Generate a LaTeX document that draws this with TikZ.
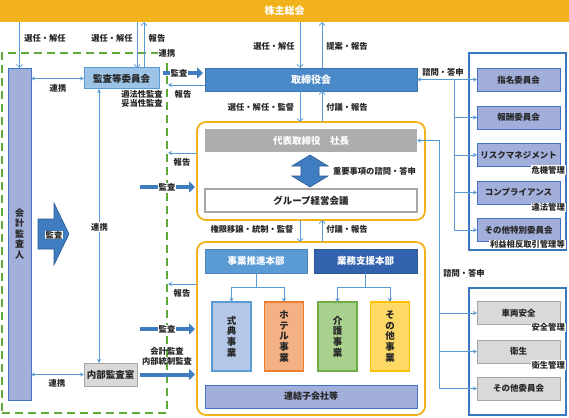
\documentclass[tikz,border=0pt]{standalone}
\usepackage{fontspec}
\setmainfont{Noto Sans CJK JP}
\usetikzlibrary{arrows.meta,calc}
\definecolor{orng}{HTML}{F2B21B}
\definecolor{grn}{HTML}{5DA93A}
\definecolor{ln}{HTML}{5B9BD5}
\definecolor{fatc}{HTML}{3F7DC0}
\definecolor{fatd}{HTML}{2A5A94}
\definecolor{toric}{HTML}{4A89C8}
\definecolor{lav}{HTML}{A3AFDB}
\definecolor{lavd}{HTML}{4472C4}
\definecolor{ltb}{HTML}{9DC3E6}
\definecolor{gry}{HTML}{ADADAD}
\definecolor{lgry}{HTML}{D9D9D9}
\definecolor{mgry}{HTML}{A6A6A6}
\definecolor{dkb}{HTML}{3362AE}
\definecolor{outb}{HTML}{3A78C0}
\definecolor{bsh}{HTML}{B4C7E7}
\definecolor{bho}{HTML}{F4B183}
\definecolor{bhod}{HTML}{ED7D31}
\definecolor{bka}{HTML}{A9D18E}
\definecolor{bkad}{HTML}{70AD47}
\definecolor{bot}{HTML}{FFD966}
\definecolor{botd}{HTML}{FFC000}
\definecolor{txt}{HTML}{262626}
\begin{document}
\begin{tikzpicture}[x=1pt,y=-1pt,
  box/.style={inner sep=0pt,outer sep=0pt,text=txt,font=\fontsize{9.5}{11}\selectfont\bfseries},
  comm/.style={box,fill=lav,draw=lavd,line width=0.9pt,minimum width=83pt,minimum height=23pt,font=\fontsize{8.5}{10}\selectfont\bfseries},
  gcomm/.style={box,fill=lgry,draw=mgry,line width=0.9pt,minimum width=83pt,minimum height=23pt,font=\fontsize{8.5}{10}\selectfont\bfseries},
  bus/.style={box,line width=1.2pt,minimum width=39pt,minimum height=69pt,align=center,font=\fontsize{9.5}{10.6}\selectfont\bfseries},
  lbl/.style={inner sep=1pt,text=txt,font=\fontsize{8.3}{9.5}\selectfont\bfseries},
  wl/.style={lbl,fill=white},
  thinl/.style={draw=ln,line width=0.8pt},
  tarr/.style={thinl,-{Stealth[length=4pt,width=4pt]}},
  tarr2/.style={thinl,{Stealth[length=4pt,width=4pt]}-{Stealth[length=4pt,width=4pt]}},
  barb/.style={thinl,-{Straight Barb[length=3pt,width=6pt]}},
  fat/.style={draw=fatc,line width=4pt,-{Triangle[length=6pt,width=11pt]}},
]
\useasboundingbox (0,0) rectangle (569,417);

% green dashed frame
\node[draw=grn,line width=1.6pt,dash pattern=on 8pt off 5pt,minimum width=165pt,minimum height=360pt,inner sep=0pt,outer sep=0pt] (frame) at (84.5,233) {};

% main nodes
\node[box,fill=orng,text=white,minimum width=569pt,minimum height=22pt,font=\fontsize{10}{12}\selectfont\bfseries] (kabu) at (284.5,11) {株主総会};
\node[box,fill=lav,draw=lavd,line width=0.9pt,minimum width=23pt,minimum height=332pt,align=center,font=\fontsize{9}{10.5}\selectfont\bfseries] (kaikei) at (19.5,234) {会\\計\\監\\査\\人};
\node[box,fill=ltb,draw=ln,line width=1pt,minimum width=75pt,minimum height=21pt] (kaniin) at (121.5,78.5) {監査等委員会};
\node[box,fill=lgry,draw=mgry,line width=1pt,minimum width=53pt,minimum height=23pt] (naibu) at (110.5,374.5) {内部監査室};
\node[box,fill=toric,draw=toric!85!black,line width=0.8pt,text=white,minimum width=212pt,minimum height=23pt,font=\fontsize{10}{12}\selectfont\bfseries] (tori) at (311,79.5) {取締役会};

\node[draw=orng,line width=1.8pt,rounded corners=9pt,minimum width=228pt,minimum height=98pt,inner sep=0pt,outer sep=0pt] (cont1) at (311,171) {};
\node[box,fill=gry,text=white,minimum width=212pt,minimum height=23pt] (shacho) at (311,140.5) {代表取締役　社長};
\node[box,fill=white,draw=mgry,line width=1.5pt,minimum width=212pt,minimum height=23pt] (group) at (311,200.5) {グループ経営会議};

\node[draw=orng,line width=1.8pt,rounded corners=9pt,minimum width=228pt,minimum height=173pt,inner sep=0pt,outer sep=0pt] (cont2) at (311,328.5) {};
\node[box,fill=ln,draw=ln!85!black,line width=0.8pt,text=white,minimum width=102pt,minimum height=24pt] (suishin) at (256,261) {事業推進本部};
\node[box,fill=dkb,draw=dkb!85!black,line width=0.8pt,text=white,minimum width=103pt,minimum height=24pt] (shien) at (365.5,261) {業務支援本部};
\node[bus,fill=bsh,draw=ln] (shiki) at (231.5,336.5) {式\\典\\事\\業};
\node[bus,fill=bho,draw=bhod] (hotel) at (284,336.5) {ホ\\テ\\ル\\事\\業};
\node[bus,fill=bka,draw=bkad] (kaigo) at (337.5,336.5) {介\\護\\事\\業};
\node[bus,fill=bot,draw=botd] (other) at (390,336.5) {そ\\の\\他\\事\\業};
\node[box,fill=lav,draw=lavd,line width=0.9pt,minimum width=212pt,minimum height=23pt,font=\fontsize{9}{11}\selectfont\bfseries] (renketsu) at (311,396.5) {連結子会社等};

% committees
\node[draw=outb,line width=1.4pt,minimum width=97pt,minimum height=197pt,inner sep=0pt,outer sep=0pt] (outer1) at (517.5,151.5) {};
\node[draw=outb,line width=1.4pt,minimum width=97pt,minimum height=127pt,inner sep=0pt,outer sep=0pt] (outer2) at (517.5,351.5) {};
\node[comm] (c1) at (518.5,80) {指名委員会};
\node[comm] (c2) at (518.5,117.5) {報酬委員会};
\node[comm] (c3) at (518.5,155) {リスクマネジメント};
\node[comm] (c4) at (518.5,192.5) {コンプライアンス};
\node[comm] (c5) at (518.5,230) {その他特別委員会};
\node[gcomm] (d1) at (518.5,313) {車両安全};
\node[gcomm] (d2) at (518.5,351.5) {衛生};
\node[gcomm] (d3) at (518.5,388.5) {その他委員会};
\node[wl,anchor=east] (n1) at (566,170) {危機管理};
\node[wl,anchor=east] (n2) at (566,207.5) {違法管理};
\node[wl,anchor=east] (n3) at (566,244.5) {利益相反取引管理等};
\node[wl,anchor=east] (n4) at (566,327.5) {安全管理};
\node[wl,anchor=east] (n5) at (566,365) {衛生管理};

% helper coordinates
\coordinate (v1) at (454,0);
\coordinate (v2) at (439,0);
\coordinate (gx) at (168,0);
\coordinate (fx) at (140,0);
\coordinate (kaA) at ([xshift=15.5pt]kaniin.north);
\coordinate (kaB) at ([xshift=22.5pt]kaniin.north);
\coordinate (toA) at ([xshift=-11pt]tori.north);
\coordinate (toB) at ([xshift=11pt]tori.north);
\coordinate (rep0) at ([yshift=-5.5pt]tori.west);
\coordinate (rep1) at ([yshift=18pt]cont1.west);
\coordinate (rep2) at ([yshift=44.5pt]cont2.west);
\coordinate (aud1) at ([xshift=-2pt,yshift=-16pt]cont1.west);
\coordinate (aud2) at ([xshift=-2pt,yshift=-0.5pt]cont2.west);

% shareholder / board arrows
\draw[barb] (kabu.south -| kaikei.north) -- (kaikei.north);
\draw[barb] (kabu.south -| kaA) -- (kaA);
\draw[barb] (kaB) -- (kabu.south -| kaB);
\draw[barb] (kabu.south -| toA) -- (toA);
\draw[barb] (toB) -- (kabu.south -| toB);
\draw[barb] (tori.south -| toA) -- (cont1.north -| toA);
\draw[barb] (cont1.north -| toB) -- (tori.south -| toB);
\draw[barb] (cont1.south -| toA) -- (cont2.north -| toA);
\draw[barb] (cont2.north -| toB) -- (cont1.south -| toB);

% audit-side thin arrows
\draw[tarr2] (kaikei.east |- kaniin.west) -- (kaniin.west);
\draw[tarr2] (kaikei.east |- naibu.west) -- (naibu.west);
\draw[tarr2] ([xshift=-22.5pt]kaniin.south) -- ([xshift=-11.5pt]naibu.north);
\draw[tarr] (rep0) -- (gx |- rep0);
\draw[tarr] (rep1) -- (gx |- rep1);
\draw[tarr] (rep2) -- (gx |- rep2);

% fat arrows
\draw[fat] ([xshift=4pt,yshift=5.5pt]kaniin.east) -- ([xshift=-2pt,yshift=6.5pt]tori.west);
\draw[fat] (fx |- aud1) -- (aud1);
\draw[fat] (fx |- aud2) -- (aud2);
\draw[fat] ([xshift=3pt]naibu.east) -- ([xshift=-2pt]cont2.west |- naibu.east);

% big 監査 arrow
\draw[fill=fatc,draw=fatd,line width=0.6pt] (38,219) -- (54,219) -- (54,203) -- (69,234) -- (54,265) -- (54,249) -- (38,249) -- cycle;
% double arrow shacho <-> group
\draw[fill=fatc,draw=fatd,line width=0.6pt] (310,155) -- (328,166) -- (319,166) -- (319,176) -- (328,176) -- (310,187) -- (292,176) -- (301,176) -- (301,166) -- (292,166) -- cycle;

% business connectors
\draw[tarr] (suishin.south) |- ($(shiki.north)+(0,-15)$) -- (shiki.north);
\draw[tarr] (suishin.south) |- ($(hotel.north)+(0,-15)$) -- (hotel.north);
\draw[tarr] (shien.south) |- ($(kaigo.north)+(0,-15)$) -- (kaigo.north);
\draw[tarr] (shien.south) |- ($(other.north)+(0,-15)$) -- (other.north);

% committee connectors
\draw[tarr2] (tori.east) -- (tori.east -| c1.west);
\draw[thinl] (v1 |- tori.east) -- (v1 |- c5.west);
\draw[tarr] (v1 |- c2.west) -- (c2.west);
\draw[tarr] (v1 |- c3.west) -- (c3.west);
\draw[tarr] (v1 |- c4.west) -- (c4.west);
\draw[tarr] (v1 |- c5.west) -- (c5.west);
\draw[tarr] (v2 |- d3.west) -- (v2 |- shacho.east) -- (shacho.east);
\draw[tarr] (v2 |- d1.west) -- (d1.west);
\draw[tarr] (v2 |- d2.west) -- (d2.west);
\draw[tarr] (v2 |- d3.west) -- (d3.west);

% labels
\node[lbl] at (45,38) {選任・解任};
\node[lbl] at (112,38) {選任・解任};
\node[lbl] at (157,38) {報告};
\node[wl] at (167,53) {連携};
\node[lbl] at (58,88) {連携};
\node[lbl] at (57,383) {連携};
\node[wl] at (99.5,227) {連携};
\node[lbl] at (142,94) {適法性監査};
\node[lbl] at (142,103.5) {妥当性監査};
\node[wl,inner sep=0.5pt] at (179,73) {監査};
\node[lbl] at (183,94) {報告};
\node[lbl] at (182,162) {報告};
\node[wl,inner sep=0.5pt] at (167,187) {監査};
\node[lbl] at (182,293) {報告};
\node[wl,inner sep=0.5pt] at (167,329) {監査};
\node[lbl] at (167,351) {会計監査};
\node[lbl] at (167,361) {内部統制監査};
\node[wl,inner sep=0.5pt] at (54,235) {監査};
\node[lbl] at (274,46) {選任・解任};
\node[lbl] at (347,46) {提案・報告};
\node[lbl] at (261,107) {選任・解任・監督};
\node[lbl] at (347,107) {付議・報告};
\node[lbl] at (374.5,171) {重要事項の諮問・答申};
\node[lbl] at (252,229) {権限移譲・統制・監督};
\node[lbl] at (347,229) {付議・報告};
\node[lbl] at (443,72) {諮問・答申};
\node[lbl] at (464,273) {諮問・答申};
\end{tikzpicture}
\end{document}
